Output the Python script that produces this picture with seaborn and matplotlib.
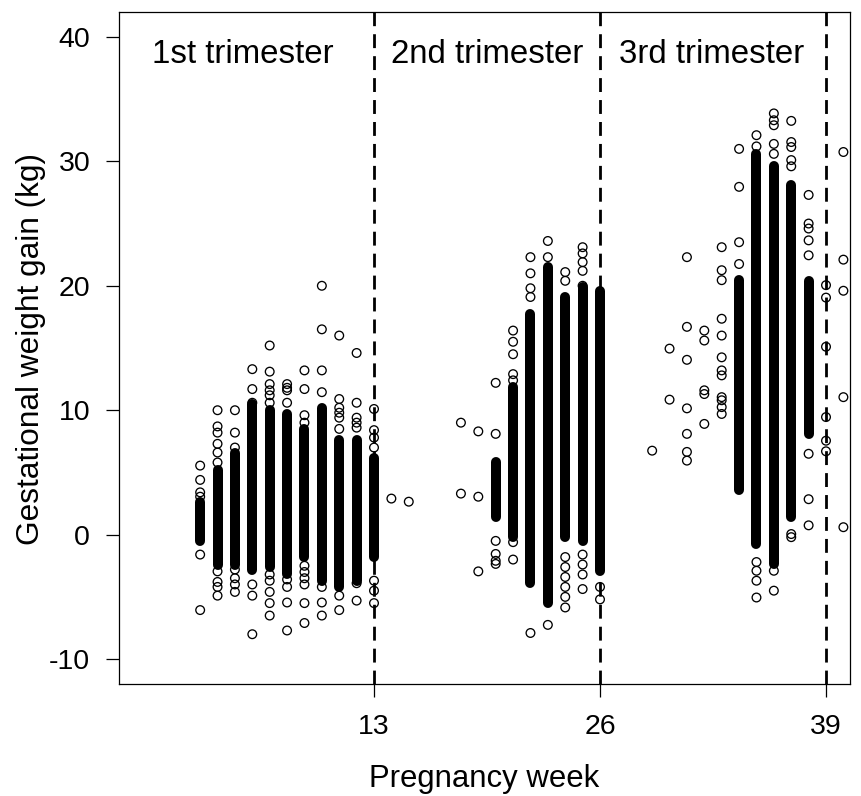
import matplotlib
matplotlib.use("Agg")
import matplotlib.pyplot as plt
import seaborn as sns
import pandas as pd

# ---------------- data ----------------
# dense (solid black) part of each week's column: lowest / highest value
core_week = [3, 4, 5, 6, 7, 8, 9, 10, 11, 12, 13,
             20, 21, 22, 23, 24, 25, 26,
             34, 35, 36, 37, 38]
core_low = [-0.5, -2.4, -2.4, -2.8, -2.6, -3.2, -1.8, -3.7, -4.2, -3.7, -1.8,
            1.4, -0.2, -3.85, -5.5, -0.2, -0.5, -2.9,
            3.55, -0.75, -2.35, 1.4, 8.1]
core_high = [2.6, 5.2, 6.6, 10.5, 10.0, 9.7, 8.5, 10.2, 7.6, 7.6, 6.2,
             5.8, 11.85, 17.75, 21.5, 19.1, 19.9, 19.6,
             20.45, 30.6, 29.6, 28.1, 20.4]

# individual (separately visible) observations
point_week = (
    [3] * 6 + [4] * 10 + [5] * 7 + [6] * 6 + [7] * 11 + [8] * 8 + [9] * 10 +
    [10] * 7 + [11] * 8 + [12] * 7 + [13] * 7 + [14] + [15] +
    [18] * 2 + [19] * 3 + [20] * 6 + [21] * 7 + [22] * 5 + [23] * 3 +
    [24] * 8 + [25] * 9 + [26] * 2 +
    [29] + [30] * 2 + [31] * 7 + [32] * 5 + [33] * 12 + [34] * 4 +
    [35] * 6 + [36] * 7 + [37] * 7 + [38] * 8 + [39] * 6 + [40] * 5
)
point_gain = (
    [5.55, 4.4, 3.4, 3.05, -1.6, -6.06] +
    [10.0, 8.7, 8.2, 7.3, 6.6, 5.8, -2.95, -3.8, -4.2, -4.9] +
    [10.0, 8.2, 7.0, -2.8, -3.5, -4.0, -4.6] +
    [13.3, 11.7, 10.6, -4.0, -4.9, -8.0] +
    [15.2, 13.1, 12.1, 11.6, 11.2, 10.6, -3.2, -3.7, -4.6, -5.5, -6.5] +
    [12.1, 11.8, 11.6, 10.6, -3.6, -4.2, -5.45, -7.7] +
    [13.2, 11.7, 9.6, 9.0, -2.5, -3.0, -3.5, -4.0, -5.5, -7.1] +
    [20.0, 16.5, 13.2, 11.45, -4.2, -5.45, -6.5] +
    [16.0, 10.9, 10.2, 9.8, 9.4, 8.5, -4.9, -6.06] +
    [14.6, 10.6, 9.4, 9.0, 8.6, -3.9, -5.3] +
    [10.1, 8.4, 7.8, 7.0, -3.7, -4.5, -5.5] +
    [2.9] + [2.65] +
    [9.0, 3.3] +
    [8.3, 3.05, -2.95] +
    [12.2, 8.1, -0.5, -1.55, -2.1, -2.35] +
    [16.4, 15.5, 14.5, 12.9, 12.4, -0.6, -2.0] +
    [22.3, 21.0, 19.8, 19.1, -7.9] +
    [23.6, 22.3, -7.25] +
    [21.1, 20.4, -1.8, -2.6, -3.4, -4.2, -5.0, -5.85] +
    [23.1, 22.6, 21.9, 21.2, 20.0, -1.6, -2.4, -3.2, -4.37] +
    [-4.2, -5.2] +
    [6.75] +
    [14.95, 10.85] +
    [22.3, 16.7, 14.05, 10.15, 8.1, 6.65, 5.95] +
    [16.4, 15.6, 11.6, 11.3, 8.9] +
    [23.1, 21.25, 20.45, 17.35, 16.0, 14.25, 13.2, 12.8, 11.05, 10.8, 10.25, 9.7] +
    [31.0, 27.95, 23.5, 21.75] +
    [32.1, 31.2, -2.2, -2.9, -3.7, -5.05] +
    [33.85, 33.3, 32.9, 31.4, 30.6, -2.9, -4.5] +
    [33.25, 31.55, 31.15, 30.1, 29.6, 0.05, -0.2] +
    [27.3, 25.0, 24.6, 23.65, 22.45, 6.5, 2.85, 0.75] +
    [20.05, 19.05, 15.1, 9.45, 7.55, 6.7] +
    [30.75, 22.1, 19.6, 11.05, 0.6]
)

trimester_bounds = [13, 26, 39]
trimester_labels = ["1st trimester", "2nd trimester", "3rd trimester"]
trimester_label_x = [5.47, 19.5, 32.4]
trimester_label_y = 37.93

x_ticks = [13, 26, 39]
y_ticks = [-10, 0, 10, 20, 30, 40]

# ---------------- plot ----------------
plt.rcParams["font.family"] = ["Liberation Sans", "DejaVu Sans"]

W, H = 862, 796
fig = plt.figure(figsize=(W / 100, H / 100), dpi=100)
ax = fig.add_axes([119 / W, (H - 684) / H, (850 - 119) / W, (684 - 12) / H])

# solid dense part of each column
lc = ax.vlines(core_week, core_low, core_high, colors="black", linewidth=7.2)
lc.set_capstyle("round")

# individual observations
df = pd.DataFrame({"week": point_week, "gain": point_gain})
sns.scatterplot(data=df, x="week", y="gain", ax=ax, marker="o", s=39,
                color="black", legend=False)
coll = ax.collections[-1]
coll.set_facecolor("none")
coll.set_edgecolor("black")
coll.set_linewidth(0.95)

for xb in trimester_bounds:
    ax.axvline(xb, color="black", linewidth=2.0, linestyle=(0, (5.0, 2.9)))

for lab, lx in zip(trimester_labels, trimester_label_x):
    ax.text(lx, trimester_label_y, lab, fontsize=23.8, ha="center",
            va="baseline", color="black")

ax.set_xlim(-1.668, 40.38)
ax.set_ylim(-12.0, 42.0)
ax.set_xticks(x_ticks)
ax.set_yticks(y_ticks)
ax.set_xticklabels([str(t) for t in x_ticks])
ax.set_yticklabels([str(t) for t in y_ticks])
ax.tick_params(axis="both", direction="out", length=9.2, width=0.9,
               color="black", labelsize=20.5, labelcolor="black")
ax.tick_params(axis="x", pad=12.7)
ax.tick_params(axis="y", pad=11.5)
for sp in ax.spines.values():
    sp.set_linewidth(0.9)
    sp.set_color("black")
ax.set_xlabel("")
ax.set_ylabel("")
ax.set_facecolor("white")
fig.patch.set_facecolor("white")

fig.text(484.5 / W, 1 - 787.3 / H, "Pregnancy week", fontsize=22.4,
         ha="center", va="baseline")
fig.text(39.3 / W, 1 - 349 / H, "Gestational weight gain (kg)", fontsize=22.8,
         rotation=90, rotation_mode="anchor", ha="center", va="baseline")

fig.savefig("out.png", dpi=100)
